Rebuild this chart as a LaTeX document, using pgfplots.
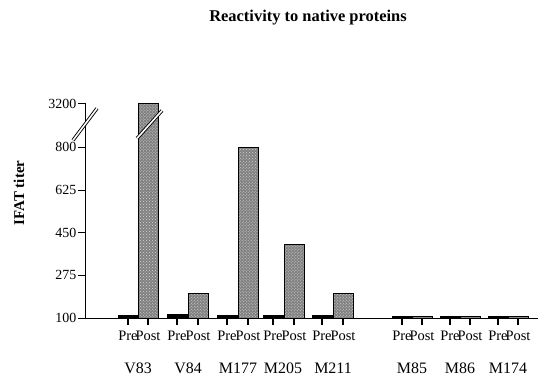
\documentclass[border=0pt]{standalone}
\usepackage{pgfplots}
\pgfplotsset{compat=1.18}
\usepackage{fontspec}
\setmainfont{Liberation Serif}
\usetikzlibrary{patterns}
\begin{document}
\begin{tikzpicture}[x=1bp,y=1bp]
\path[use as bounding box] (0,0) rectangle (538,378);
\begin{axis}[
  at={(85bp,60bp)}, anchor=south west,
  scale only axis, width=453bp, height=215bp,
  xmin=85, xmax=538, ymin=100, ymax=982,
  clip mode=individual,
  axis x line=bottom, axis y line=left,
  axis line style={line width=1pt, black, -},
  xtick align=outside, ytick align=outside,
  major tick length=7bp,
  major x tick style={line width=1.1pt, black},
  major y tick style={line width=1pt, black},
  y filter/.expression={y>900?980:y},
  xtick={128,148,177,198,227,248,273,294,322,343,402,422,450,470,498,518},
  xticklabels={Pre,Post,Pre,Post,Pre,Post,Pre,Post,Pre,Post,Pre,Post,Pre,Post,Pre,Post},
  xticklabel style={font=\fontsize{14.5}{14.5}\selectfont, inner sep=1bp, yshift=-5bp},
  ytick={100,275,450,625,800,980},
  yticklabels={100,275,450,625,800,3200},
  yticklabel style={font=\fontsize{14}{14}\selectfont, inner sep=1.5bp},
]
\addplot[ybar, bar width=20, bar shift=0pt, draw=black, fill=black]
  coordinates {(128,112) (177,114) (227,110) (273,110) (322,110) (402,108) (450,107) (498,107)};
\addplot[ybar, bar width=20, bar shift=0pt, draw=black, line width=0.8pt, fill=black!50,
  postaction={pattern=crosshatch dots, pattern color=white!85!black}]
  coordinates {(148,3200) (198,200) (248,800) (294,400) (343,200) (422,108) (470,107) (518,107)};
\foreach \xx/\nm in {138/V83,188/V84,238/M177,283/M205,333/M211,412/M85,460/M86,508/M174}{
  \edef\tmp{\noexpand\node[anchor=base, font=\noexpand\fontsize{16}{16}\noexpand\selectfont, yshift=-55bp, inner sep=0pt] at (axis cs:\xx,100) {\nm};}
  \tmp
}
\coordinate (a1) at (axis cs:73,829);
\coordinate (a2) at (axis cs:97,960);
\coordinate (b1) at (axis cs:137,837);
\coordinate (b2) at (axis cs:162,951);
\end{axis}
\draw[double=white, double distance=1.6pt, line width=0.9pt] (a1) -- (a2);
\draw[double=white, double distance=1.6pt, line width=0.9pt] (b1) -- (b2);
\node[font=\bfseries\fontsize{16.5}{16.5}\selectfont] at (308,360) {Reactivity to native proteins};
\node[rotate=90, font=\bfseries\fontsize{15}{15}\selectfont] at (19,185) {IFAT titer};
\end{tikzpicture}
\end{document}
